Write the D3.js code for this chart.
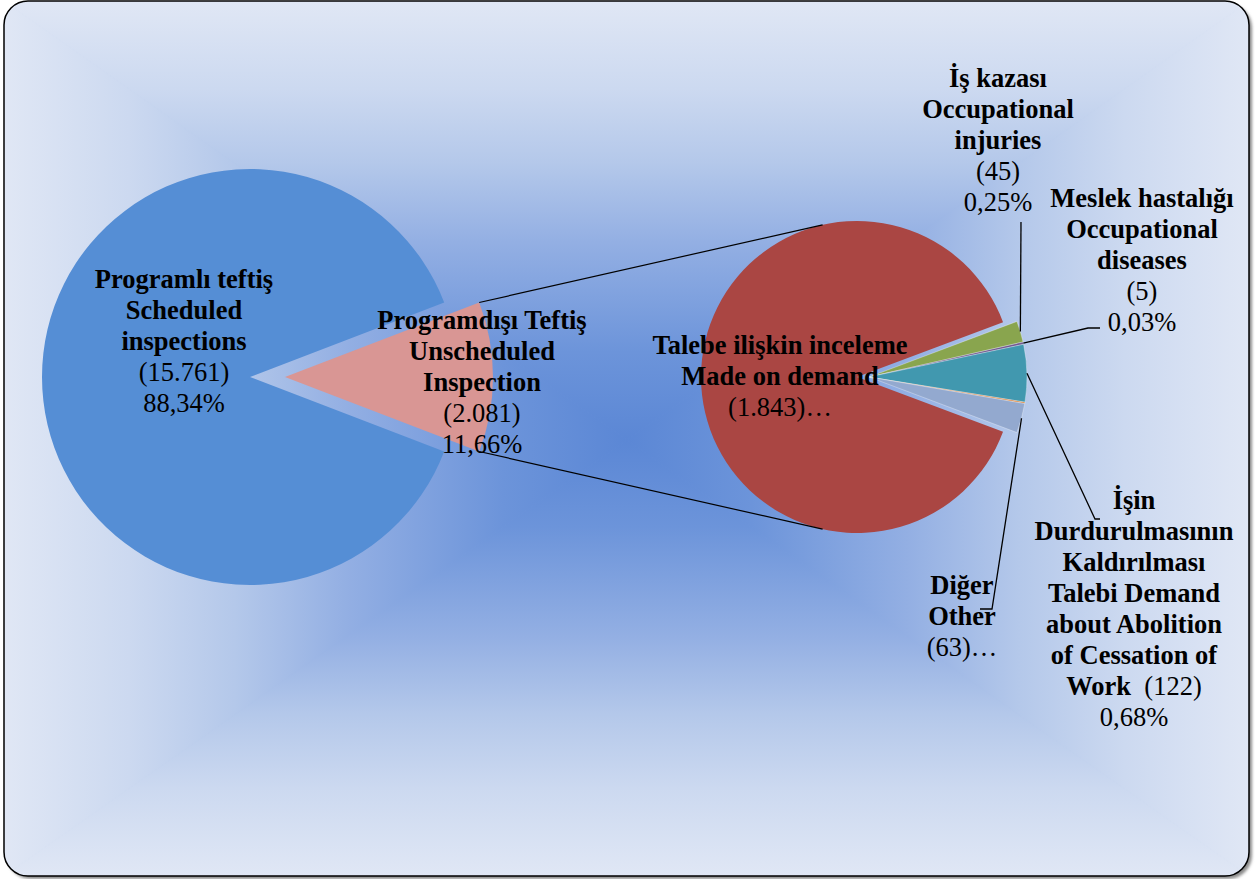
<!DOCTYPE html>
<html>
<head>
<meta charset="utf-8">
<script src="https://cdn.jsdelivr.net/npm/d3@7"></script>
<style>
  body { margin: 0; background: #fff; }
  svg { display: block; }
  text { font-family: "Liberation Serif", "Times New Roman", serif; font-size: 26.5px; fill: #000; }
  .bold { font-weight: bold; }
</style>
</head>
<body>
<svg id="chart" width="1255" height="879"></svg>
<script>
// ── data ───────────────────────────────────────────────────────────────────
const mainNames = [
  ['Programlı teftiş', 'Scheduled', 'inspections'],
  ['Programdışı Teftiş', 'Unscheduled', 'Inspection']
];
const mainValues = [15761, 2081];
const mainColors = ['#558ED5', '#D99694'];

const subNames = [
  ['Talebe ilişkin inceleme', 'Made on demand'],
  ['İş kazası', 'Occupational', 'injuries'],
  ['Meslek hastalığı', 'Occupational', 'diseases'],
  ['İşin', 'Durdurulmasının', 'Kaldırılması', 'Talebi Demand', 'about Abolition', 'of Cessation of', 'Work'],
  [],
  ['Diğer', 'Other']
];
const subValues = [1843, 45, 5, 122, 3, 63];
const subColors = ['#AA4643', '#89A54E', '#71588F', '#4198AF', '#DB843D', '#93A9CF'];

// ── layout ─────────────────────────────────────────────────────────────────
const W = 1255, H = 879;
const mainC = [250, 377], mainR = 208, mainExplode = [0, 35];
const subC = [857, 377], subR = [156, 158, 158, 158, 158, 158], subExplode = [0, 12, 12, 12, 12, 12];
const LH = 31;
// label anchor (centre x, first baseline) and how the value is shown
const mainLabelPos = [{ x: 184, y: 288, mode: 'full' }, { x: 482, y: 329, mode: 'full' }];
const subLabelPos = [
  { x: 780, y: 354, mode: 'cut' },
  { x: 998, y: 87, mode: 'full' },
  { x: 1142, y: 207, mode: 'full' },
  { x: 1134, y: 509, mode: 'inline' },
  null,
  { x: 962, y: 594, mode: 'cut' }
];
const leaderEnds = [null, [[1021, 222]], [[1088, 328], [1100, 328]], [[1095, 519], [1100, 519]], null, [[992, 609], [980, 609]]];

const tr = d3.formatLocale({ decimal: ',', thousands: '.', grouping: [3], currency: ['', ''] });
const fmtNum = tr.format(',d');
const fmtPct = v => tr.format('.2f')(v * 100) + '%';
const total = d3.sum(mainValues);

const svg = d3.select('#chart');
const defs = svg.append('defs');

// ── background: rectangular path gradient ──────────────────────────────────
const box = { x0: 4, y0: 1, x1: 1249, y1: 876 };
const gc = [627, 440];
const stops = [[0, '#5b87d5'], [0.2, '#6c94da'], [0.45, '#93afe3'], [0.63, '#b4c8ea'], [0.8, '#ccd9f0'], [1, '#e0e7f5']];

const shadow = defs.append('filter').attr('id', 'shd').attr('x', '-5%').attr('y', '-5%').attr('width', '110%').attr('height', '110%');
shadow.append('feGaussianBlur').attr('stdDeviation', 1.5);
defs.append('clipPath').attr('id', 'frameClip').append('rect')
  .attr('x', box.x0).attr('y', box.y0).attr('width', box.x1 - box.x0).attr('height', box.y1 - box.y0).attr('rx', 24);

svg.append('rect').attr('x', box.x0 + 3).attr('y', box.y0 + 3)
  .attr('width', box.x1 - box.x0).attr('height', box.y1 - box.y0).attr('rx', 24)
  .attr('fill', '#8a8a8a').attr('filter', 'url(#shd)');

const tris = [
  { id: 'gT', pts: [[box.x0, box.y0], [box.x1, box.y0], gc], g: [gc[0], gc[1], gc[0], box.y0] },
  { id: 'gB', pts: [[box.x0, box.y1], [box.x1, box.y1], gc], g: [gc[0], gc[1], gc[0], box.y1] },
  { id: 'gL', pts: [[box.x0, box.y0], [box.x0, box.y1], gc], g: [gc[0], gc[1], box.x0, gc[1]] },
  { id: 'gR', pts: [[box.x1, box.y0], [box.x1, box.y1], gc], g: [gc[0], gc[1], box.x1, gc[1]] }
];
const bgG = svg.append('g').attr('clip-path', 'url(#frameClip)');
bgG.append('rect').attr('x', 0).attr('y', 0).attr('width', W).attr('height', H).attr('fill', '#93afe3');
tris.forEach(t => {
  const lg = defs.append('linearGradient').attr('id', t.id).attr('gradientUnits', 'userSpaceOnUse')
    .attr('x1', t.g[0]).attr('y1', t.g[1]).attr('x2', t.g[2]).attr('y2', t.g[3]);
  stops.forEach(s => lg.append('stop').attr('offset', s[0]).attr('stop-color', s[1]));
  bgG.append('polygon').attr('points', t.pts.map(p => p.join(',')).join(' '))
    .attr('fill', `url(#${t.id})`).attr('stroke', `url(#${t.id})`).attr('stroke-width', 1);
});

svg.append('rect').attr('x', box.x0).attr('y', box.y0)
  .attr('width', box.x1 - box.x0).attr('height', box.y1 - box.y0).attr('rx', 24)
  .attr('fill', 'none').attr('stroke', '#000').attr('stroke-width', 1.5);

// ── primary pie ────────────────────────────────────────────────────────────
const mainOther = mainValues[1] / total * 2 * Math.PI;
const mainStart = Math.PI / 2 + mainOther / 2;
const mainArcs = d3.pie().sort(null).startAngle(mainStart).endAngle(mainStart + 2 * Math.PI)(mainValues);
const mainOff = mainArcs.map((a, i) => {
  const m = (a.startAngle + a.endAngle) / 2;
  return [mainC[0] + mainExplode[i] * Math.sin(m), mainC[1] - mainExplode[i] * Math.cos(m)];
});
const mainArc = d3.arc().innerRadius(0).outerRadius(mainR);
svg.append('g').selectAll('path').data(mainArcs).join('path')
  .attr('transform', (d, i) => `translate(${mainOff[i]})`)
  .attr('d', mainArc)
  .attr('fill', (d, i) => mainColors[i]);

// ── secondary pie ──────────────────────────────────────────────────────────
const subTotal = d3.sum(subValues);
const subSmall = (subTotal - subValues[0]) / subTotal * 2 * Math.PI;
const subStart = Math.PI / 2 + subSmall / 2;
const subArcs = d3.pie().sort(null).startAngle(subStart).endAngle(subStart + 2 * Math.PI)(subValues);
const groupMid = subStart + (subArcs[0].endAngle - subArcs[0].startAngle) + subSmall / 2;
const subOff = subArcs.map((a, i) => [subC[0] + subExplode[i] * Math.sin(groupMid), subC[1] - subExplode[i] * Math.cos(groupMid)]);
svg.append('g').selectAll('path').data(subArcs).join('path')
  .attr('transform', (d, i) => `translate(${subOff[i]})`)
  .attr('d', (d, i) => d3.arc().innerRadius(0).outerRadius(subR[i])(d))
  .attr('fill', (d, i) => subColors[i])
  .attr('stroke', (d, i) => i ? 'rgba(255,255,255,0.45)' : 'none')
  .attr('stroke-width', 0.7);

// ── connector lines (tangent to secondary pie) ─────────────────────────────
const pink = mainArcs[1], pc = mainOff[1];
const corner = a => [pc[0] + mainR * Math.sin(a), pc[1] - mainR * Math.cos(a)];
function tangent(p, sign) {
  const dx = p[0] - subC[0], dy = p[1] - subC[1];
  const d = Math.hypot(dx, dy);
  const t = Math.atan2(dy, dx) + sign * Math.acos(subR[0] / d);
  return [subC[0] + subR[0] * Math.cos(t), subC[1] + subR[0] * Math.sin(t)];
}
const topC = corner(pink.startAngle), botC = corner(pink.endAngle);
svg.append('g').attr('stroke', '#000').attr('stroke-width', 1.2).attr('fill', 'none')
  .selectAll('line').data([[topC, tangent(topC, 1)], [botC, tangent(botC, -1)]]).join('line')
  .attr('x1', d => d[0][0]).attr('y1', d => d[0][1]).attr('x2', d => d[1][0]).attr('y2', d => d[1][1]);

// ── leader lines ───────────────────────────────────────────────────────────
const leaderG = svg.append('g').attr('stroke', '#000').attr('stroke-width', 1.3).attr('fill', 'none');
subArcs.forEach((a, i) => {
  if (!leaderEnds[i]) return;
  const m = (a.startAngle + a.endAngle) / 2;
  const s = [subOff[i][0] + subR[i] * Math.sin(m), subOff[i][1] - subR[i] * Math.cos(m)];
  leaderG.append('path').attr('d', d3.line()([s, ...leaderEnds[i]]));
});

// ── labels ─────────────────────────────────────────────────────────────────
function drawLabel(pos, names, value) {
  if (!pos) return;
  const t = svg.append('text').attr('text-anchor', 'middle');
  let k = 0;
  const line = () => t.append('tspan').attr('x', pos.x).attr('y', pos.y + LH * k++);
  names.forEach((n, j) => {
    const ts = line();
    ts.append('tspan').attr('class', 'bold').text(n);
    if (pos.mode === 'inline' && j === names.length - 1) ts.append('tspan').text('\u00a0 (' + fmtNum(value) + ')');
  });
  if (pos.mode === 'full') {
    line().text('(' + fmtNum(value) + ')');
    line().text(fmtPct(value / total));
  } else if (pos.mode === 'cut') {
    line().text('(' + fmtNum(value) + ')…');
  } else {
    line().text(fmtPct(value / total));
  }
}
mainNames.forEach((n, i) => drawLabel(mainLabelPos[i], n, mainValues[i]));
subNames.forEach((n, i) => drawLabel(subLabelPos[i], n, subValues[i]));
</script>
</body>
</html>
